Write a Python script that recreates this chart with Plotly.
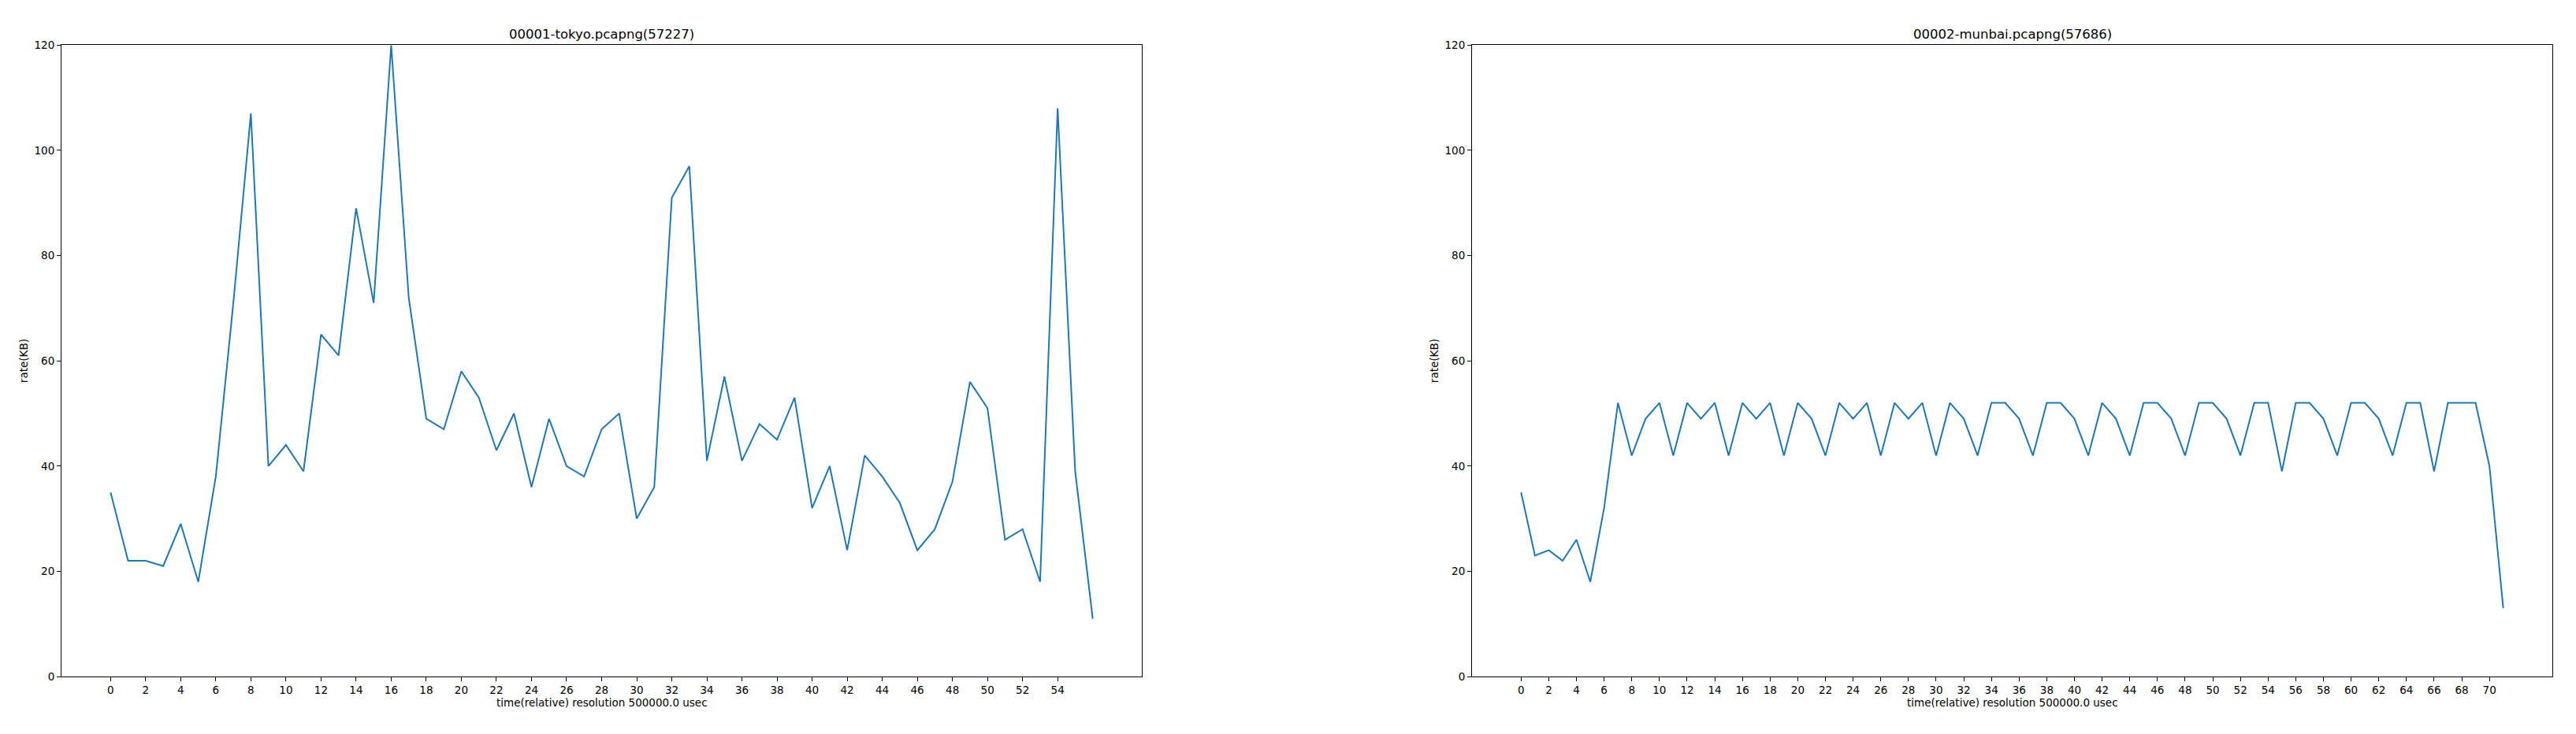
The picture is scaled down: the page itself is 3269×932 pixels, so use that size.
import plotly.graph_objects as go

# page is 3269x932; the html body adds an 8px margin, so the figure is drawn
# a little smaller than the page and all page positions are shifted by 8px
PAGE_W, PAGE_H = 3269, 932
OFF = 8
W, H = PAGE_W - 2 * OFF - 8, PAGE_H - 2 * OFF

tokyo_title = "00001-tokyo.pcapng(57227)"
munbai_title = "00002-munbai.pcapng(57686)"
x_label = "time(relative) resolution 500000.0 usec"
y_label = "rate(KB)"

tokyo_rate = [35, 22, 22, 21, 29, 18, 38, 71, 107, 40,
              44, 39, 65, 61, 89, 71, 120, 72, 49, 47,
              58, 53, 43, 50, 36, 49, 40, 38, 47, 50,
              30, 36, 91, 97, 41, 57, 41, 48, 45, 53,
              32, 40, 24, 42, 38, 33, 24, 28, 37, 56,
              51, 26, 28, 18, 108, 39, 11]
tokyo_time = list(range(len(tokyo_rate)))

munbai_rate = [35, 23, 24, 22, 26, 18, 32, 52, 42, 49,
               52, 42, 52, 49, 52, 42, 52, 49, 52, 42,
               52, 49, 42, 52, 49, 52, 42, 52, 49, 52,
               42, 52, 49, 42, 52, 52, 49, 42, 52, 52,
               49, 42, 52, 49, 42, 52, 52, 49, 42, 52,
               52, 49, 42, 52, 52, 39, 52, 52, 49, 42,
               52, 52, 49, 42, 52, 52, 39, 52, 52, 52,
               40, 13]
munbai_time = list(range(len(munbai_rate)))

tokyo_ticks = list(range(0, 55, 2))
munbai_ticks = list(range(0, 71, 2))
y_ticks = [0, 20, 40, 60, 80, 100, 120]

color = "#1f77b4"
font_family = "DejaVu Sans, sans-serif"

fig = go.Figure()
fig.add_trace(go.Scatter(x=tokyo_time, y=tokyo_rate, mode="lines",
                         line=dict(color=color, width=2), xaxis="x", yaxis="y",
                         showlegend=False))
fig.add_trace(go.Scatter(x=munbai_time, y=munbai_rate, mode="lines",
                         line=dict(color=color, width=2), xaxis="x2", yaxis="y2",
                         showlegend=False))

# axes boxes in page pixels (vertical values slightly stretched to match)
L1, R1 = 78, 1449
L2, R2 = 1868, 3239
T, B = 50, 866
TITLE_Y, XLABEL_Y = 36, 900


def px(x):
    return (x - OFF) / W


def py(y):
    return (H - (y - OFF)) / H


axis_common = dict(showline=True, linecolor="black", linewidth=1, mirror=True,
                   ticks="outside", ticklen=5, tickwidth=1, tickcolor="black",
                   showgrid=False, zeroline=False,
                   tickfont=dict(family=font_family, size=13.5, color="black"))

tokyo_n = len(tokyo_time) - 1
munbai_n = len(munbai_time) - 1

fig.update_layout(
    width=W, height=H,
    margin=dict(l=0, r=0, t=0, b=0),
    paper_bgcolor="white", plot_bgcolor="white",
    xaxis=dict(domain=[px(L1), px(R1)], anchor="y",
               range=[-0.05 * tokyo_n, tokyo_n * 1.05],
               tickmode="array", tickvals=tokyo_ticks, **axis_common),
    yaxis=dict(domain=[py(B), py(T)], anchor="x", range=[0, 120],
               tickmode="array", tickvals=y_ticks, **axis_common),
    xaxis2=dict(domain=[px(L2), px(R2)], anchor="y2",
                range=[-0.05 * munbai_n, munbai_n * 1.05],
                tickmode="array", tickvals=munbai_ticks, **axis_common),
    yaxis2=dict(domain=[py(B), py(T)], anchor="x2", range=[0, 120],
                tickmode="array", tickvals=y_ticks, **axis_common),
)

ann_font = dict(family=font_family, size=13.5, color="black")
title_font = dict(family=font_family, size=16.5, color="black")
annotations = []
for L, R, title in [(L1, R1, tokyo_title), (L2, R2, munbai_title)]:
    cx = (L + R) / 2
    annotations.append(dict(text=title, x=px(cx), y=py(TITLE_Y), xref="paper", yref="paper",
                            xanchor="center", yanchor="middle", showarrow=False,
                            font=title_font))
    annotations.append(dict(text=x_label, x=px(cx), y=py(XLABEL_Y), xref="paper", yref="paper",
                            xanchor="center", yanchor="middle", showarrow=False,
                            font=ann_font))
    annotations.append(dict(text=y_label, x=px(L - 48), y=py((T + B) / 2), xref="paper",
                            yref="paper", xanchor="center", yanchor="middle",
                            textangle=-90, showarrow=False, font=ann_font))
fig.update_layout(annotations=annotations)

fig.write_html("out.html")
